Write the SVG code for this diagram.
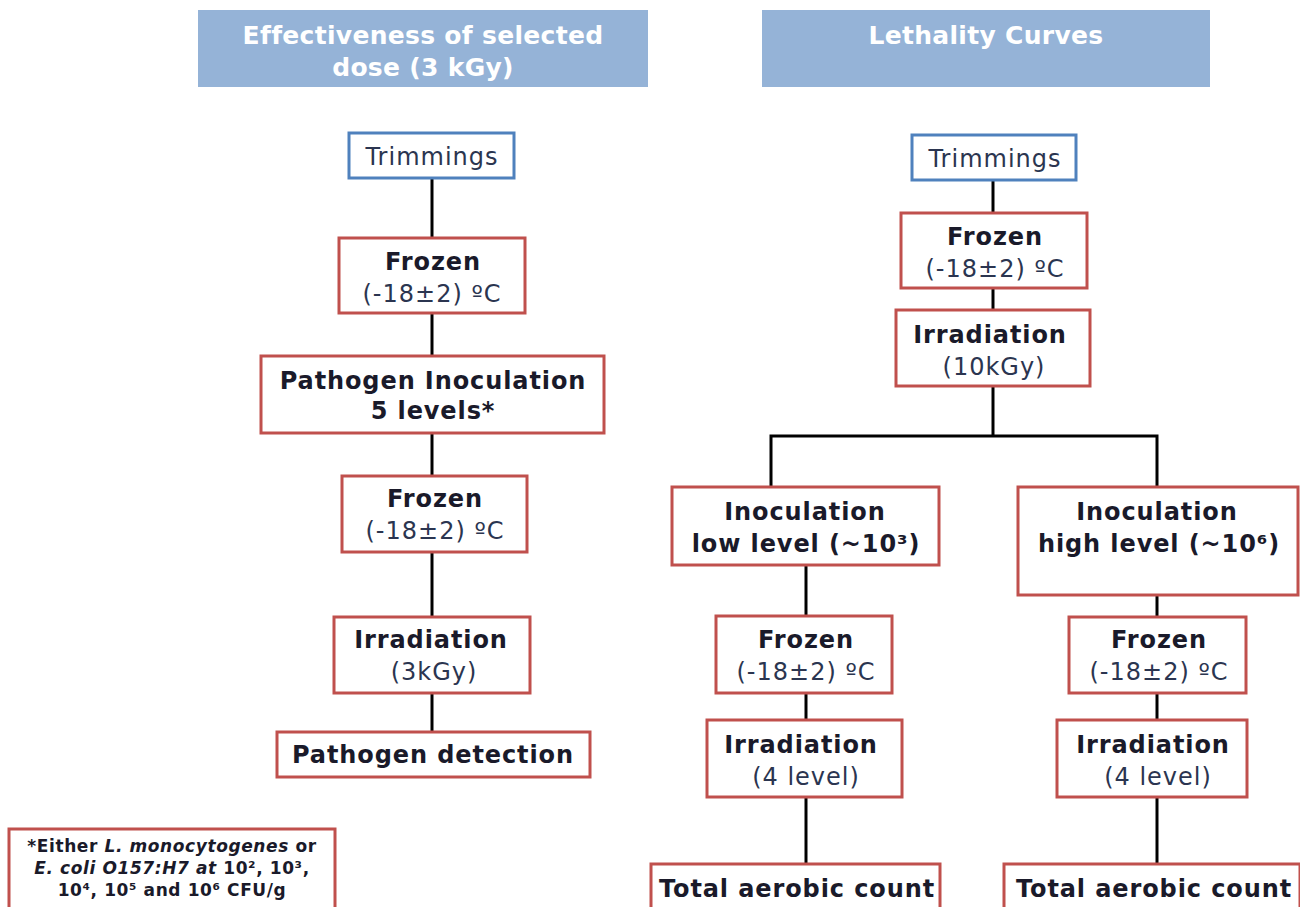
<svg xmlns="http://www.w3.org/2000/svg" width="1300" height="907" viewBox="0 0 1300 907">
  <style>
    .hdr { fill: #95b3d7; }
    .hdrt { fill: #ffffff; font-family: "DejaVu Sans", Verdana, sans-serif; font-weight: bold; font-size: 25px; letter-spacing: 0.3px; text-anchor: middle; }
    .start { fill: #ffffff; stroke: #4f81bd; stroke-width: 3; }
    .step { fill: #ffffff; stroke: #c0504d; stroke-width: 3; }
    .b { fill: #1a1a2a; font-family: "DejaVu Sans", Verdana, sans-serif; font-weight: bold; font-size: 24px; letter-spacing: 0.9px; text-anchor: middle; }
    .r { fill: #2b3550; font-family: "DejaVu Sans", Verdana, sans-serif; font-size: 24px; letter-spacing: 1px; text-anchor: middle; }
    .note { fill: #1a1a2a; font-family: "DejaVu Sans", Verdana, sans-serif; font-weight: bold; font-size: 17px; letter-spacing: 0.6px; text-anchor: middle; }
    .wire { stroke: #000000; stroke-width: 3; fill: none; }
  </style>
  <rect width="1300" height="907" fill="#ffffff"/>

  <!-- section headers -->
  <g id="header-dose">
    <rect class="hdr" x="198" y="10" width="450" height="77"/>
    <text class="hdrt" x="423" y="44">Effectiveness of selected</text>
    <text class="hdrt" x="423" y="76">dose (3 kGy)</text>
  </g>
  <g id="header-lethality">
    <rect class="hdr" x="762" y="10" width="448" height="77"/>
    <text class="hdrt" x="986" y="44">Lethality Curves</text>
  </g>

  <!-- connectors -->
  <g id="connectors">
    <line class="wire" x1="432" y1="178" x2="432" y2="238"/>
    <line class="wire" x1="432" y1="313" x2="432" y2="356"/>
    <line class="wire" x1="432" y1="433" x2="432" y2="476"/>
    <line class="wire" x1="432" y1="552" x2="432" y2="617" stroke-width="4"/>
    <line class="wire" x1="432" y1="693" x2="432" y2="732"/>

    <line class="wire" x1="993" y1="180" x2="993" y2="213"/>
    <line class="wire" x1="993" y1="288" x2="993" y2="310"/>
    <line class="wire" x1="993" y1="386" x2="993" y2="436"/>
    <polyline class="wire" points="771,487 771,436 1157,436 1157,487"/>
    <line class="wire" x1="806" y1="565" x2="806" y2="616"/>
    <line class="wire" x1="806" y1="693" x2="806" y2="720"/>
    <line class="wire" x1="806" y1="797" x2="806" y2="864" stroke-width="4"/>
    <line class="wire" x1="1157" y1="595" x2="1157" y2="617"/>
    <line class="wire" x1="1157" y1="693" x2="1157" y2="720"/>
    <line class="wire" x1="1157" y1="797" x2="1157" y2="864"/>
  </g>

  <!-- dose column -->
  <g id="l-trimmings">
    <rect class="start" x="349" y="133" width="165" height="45"/>
    <text class="r" x="432" y="165">Trimmings</text>
  </g>
  <g id="l-frozen1">
    <rect class="step" x="339" y="238" width="186" height="75"/>
    <text class="b" x="433" y="270">Frozen</text>
    <text class="r" x="432" y="302">(-18±2) ºC</text>
  </g>
  <g id="l-inoculation">
    <rect class="step" x="261" y="356" width="343" height="77"/>
    <text class="b" x="433" y="389">Pathogen Inoculation</text>
    <text class="b" x="433" y="419">5 levels*</text>
  </g>
  <g id="l-frozen2">
    <rect class="step" x="342" y="476" width="185" height="76"/>
    <text class="b" x="435" y="507">Frozen</text>
    <text class="r" x="435" y="539">(-18±2) ºC</text>
  </g>
  <g id="l-irradiation">
    <rect class="step" x="334" y="617" width="196" height="76"/>
    <text class="b" x="431" y="648">Irradiation</text>
    <text class="r" x="434" y="680">(3kGy)</text>
  </g>
  <g id="l-detection">
    <rect class="step" x="277" y="732" width="313" height="45"/>
    <text class="b" x="433" y="763">Pathogen detection</text>
  </g>
  <g id="footnote">
    <rect class="step" x="9" y="829" width="326" height="82"/>
    <text class="note" x="172" y="852">*Either <tspan font-style="italic">L. monocytogenes</tspan> or</text>
    <text class="note" x="172" y="874"><tspan font-style="italic">E. coli O157:H7 at</tspan> 10², 10³,</text>
    <text class="note" x="172" y="896">10⁴, 10⁵  and 10⁶ CFU/g</text>
  </g>

  <!-- lethality column -->
  <g id="r-trimmings">
    <rect class="start" x="912" y="135" width="164" height="45"/>
    <text class="r" x="995" y="167">Trimmings</text>
  </g>
  <g id="r-frozen">
    <rect class="step" x="901" y="213" width="186" height="75"/>
    <text class="b" x="995" y="245">Frozen</text>
    <text class="r" x="995" y="277">(-18±2) ºC</text>
  </g>
  <g id="r-irradiation">
    <rect class="step" x="896" y="310" width="194" height="76"/>
    <text class="b" x="990" y="343">Irradiation</text>
    <text class="r" x="994" y="375">(10kGy)</text>
  </g>
  <g id="r-inoc-low">
    <rect class="step" x="672" y="487" width="267" height="78"/>
    <text class="b" x="805" y="520">Inoculation</text>
    <text class="b" x="806" y="552">low level (~10³)</text>
  </g>
  <g id="r-inoc-high">
    <rect class="step" x="1018" y="487" width="280" height="108"/>
    <text class="b" x="1157" y="520">Inoculation</text>
    <text class="b" x="1159" y="552">high level (~10⁶)</text>
  </g>
  <g id="r-frozen-low">
    <rect class="step" x="716" y="616" width="176" height="77"/>
    <text class="b" x="806" y="648">Frozen</text>
    <text class="r" x="806" y="680">(-18±2) ºC</text>
  </g>
  <g id="r-frozen-high">
    <rect class="step" x="1069" y="617" width="177" height="76"/>
    <text class="b" x="1159" y="648">Frozen</text>
    <text class="r" x="1159" y="680">(-18±2) ºC</text>
  </g>
  <g id="r-irr-low">
    <rect class="step" x="707" y="720" width="195" height="77"/>
    <text class="b" x="801" y="753">Irradiation</text>
    <text class="r" x="806" y="785">(4 level)</text>
  </g>
  <g id="r-irr-high">
    <rect class="step" x="1057" y="720" width="190" height="77"/>
    <text class="b" x="1153" y="753">Irradiation</text>
    <text class="r" x="1158" y="785">(4 level)</text>
  </g>
  <g id="r-count-low">
    <rect class="step" x="651" y="864" width="289" height="50"/>
    <text class="b" x="797" y="897">Total aerobic count</text>
  </g>
  <g id="r-count-high">
    <rect class="step" x="1004" y="864" width="296" height="50"/>
    <text class="b" x="1154" y="897">Total aerobic count</text>
  </g>
</svg>
